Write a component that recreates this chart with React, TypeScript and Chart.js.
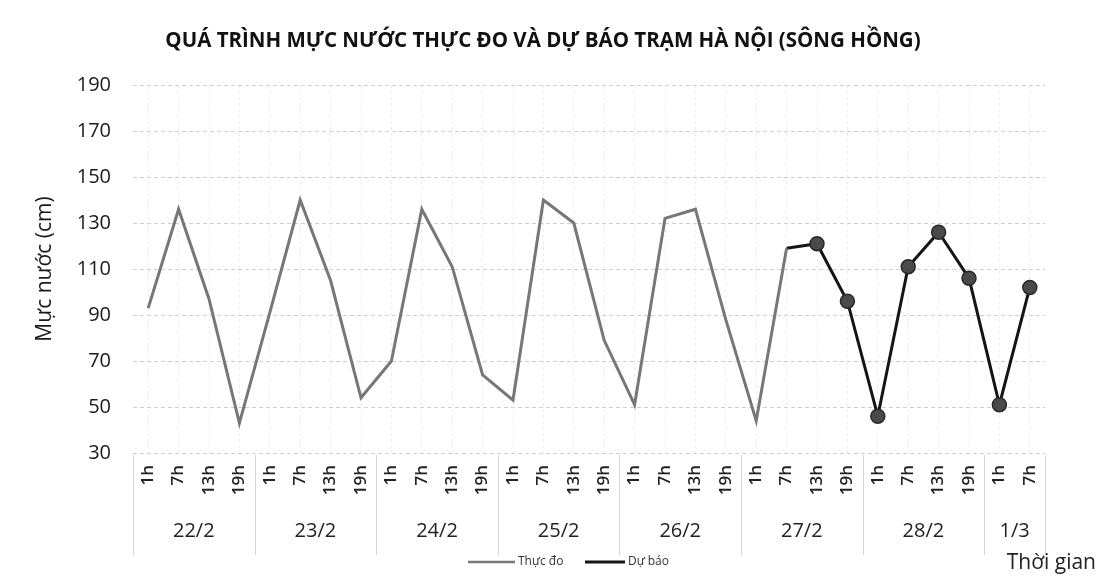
import React, { useEffect, useRef } from 'react';
import { Chart, registerables } from 'chart.js';

Chart.register(...registerables);

const hourLabels = [
  '1h', '7h', '13h', '19h',
  '1h', '7h', '13h', '19h',
  '1h', '7h', '13h', '19h',
  '1h', '7h', '13h', '19h',
  '1h', '7h', '13h', '19h',
  '1h', '7h', '13h', '19h',
  '1h', '7h', '13h', '19h',
  '1h', '7h',
];
const dayLabels = ['22/2', '23/2', '24/2', '25/2', '26/2', '27/2', '28/2', '1/3'];
const daySpans = [4, 4, 4, 4, 4, 4, 4, 2];

const measured = [
  93, 136, 97, 43,
  91, 140, 105, 54,
  70, 136, 111, 64,
  53, 140, 130, 79,
  51, 132, 136, 88,
  44, 119,
];
const forecast = [
  null, null, null, null, null, null, null, null, null, null, null,
  null, null, null, null, null, null, null, null, null, null,
  119, 121, 96, 46, 111, 126, 106, 51, 102,
];
const forecastRadius = forecast.map((v, i) => (v === null || i === 21 ? 0 : 7));

const yTicks = [30, 50, 70, 90, 110, 130, 150, 170, 190];

const TITLE = 'QUÁ TRÌNH MỰC NƯỚC THỰC ĐO VÀ DỰ BÁO TRẠM HÀ NỘI (SÔNG HỒNG)';
const FONT = "'Open Sans', 'Noto Sans', sans-serif";

const decorPlugin = {
  id: 'decor',
  afterDraw(chart: any) {
    const { ctx, scales } = chart;
    const x = scales.x;
    const bottom = chart.chartArea.bottom;
    const step = x.getPixelForValue(1) - x.getPixelForValue(0);
    ctx.save();

    // title
    ctx.fillStyle = '#111';
    ctx.font = `bold 20.5px ${FONT}`;
    ctx.textAlign = 'center';
    ctx.textBaseline = 'middle';
    ctx.fillText(TITLE, 543, 41);

    // day row
    let idx = 0;
    const bounds: number[] = [];
    dayLabels.forEach((d, k) => {
      const start = idx;
      const end = idx + daySpans[k] - 1;
      const left = x.getPixelForValue(start) - step / 2;
      const right = x.getPixelForValue(end) + step / 2;
      if (k === 0) bounds.push(left);
      bounds.push(right);
      ctx.fillStyle = '#222';
      ctx.font = `20px ${FONT}`;
      ctx.textAlign = 'center';
      ctx.textBaseline = 'middle';
      ctx.fillText(d, (left + right) / 2, bottom + 78);
      idx += daySpans[k];
    });
    ctx.strokeStyle = '#d6d6d6';
    ctx.lineWidth = 1;
    bounds.forEach((b) => {
      ctx.beginPath();
      ctx.moveTo(Math.round(b) + 0.5, bottom + 2);
      ctx.lineTo(Math.round(b) + 0.5, bottom + 102);
      ctx.stroke();
    });

    // legend
    const legendY = 562;
    const items = [
      { label: chart.data.datasets[0].label, color: '#7a7a7a', width: 2.5, x0: 468, x1: 515 },
      { label: chart.data.datasets[1].label, color: '#151515', width: 3, x0: 585, x1: 625 },
    ];
    items.forEach((it) => {
      ctx.strokeStyle = it.color;
      ctx.lineWidth = it.width;
      ctx.beginPath();
      ctx.moveTo(it.x0, legendY);
      ctx.lineTo(it.x1, legendY);
      ctx.stroke();
      ctx.fillStyle = '#333';
      ctx.font = `12px ${FONT}`;
      ctx.textAlign = 'left';
      ctx.textBaseline = 'middle';
      ctx.fillText(it.label, it.x1 + 3, legendY);
    });

    // axis caption
    ctx.fillStyle = '#222';
    ctx.font = `21px ${FONT}`;
    ctx.textAlign = 'right';
    ctx.textBaseline = 'middle';
    ctx.fillText('Thời gian', 1096, 563);
    ctx.restore();
  },
};

export default function App() {
  const ref = useRef<HTMLCanvasElement | null>(null);
  useEffect(() => {
    if (!ref.current) return;
    const chart = new Chart(ref.current, {
      type: 'line',
      data: {
        labels: hourLabels,
        datasets: [
          {
            label: 'Thực đo',
            data: measured,
            borderColor: '#777777',
            backgroundColor: '#777777',
            borderWidth: 3,
            pointRadius: 0,
            tension: 0,
          },
          {
            label: 'Dự báo',
            data: forecast as any,
            borderColor: '#151515',
            backgroundColor: '#4a4a4a',
            borderWidth: 3,
            pointRadius: forecastRadius,
            pointBorderColor: '#2a2a2a',
            pointBorderWidth: 1.5,
            pointBackgroundColor: '#4a4a4a',
            tension: 0,
          },
        ],
      },
      plugins: [decorPlugin],
      options: {
        responsive: false,
        animation: false,
        layout: { padding: { left: 10, right: 66, top: 85, bottom: 32 } },
        plugins: {
          title: { display: false },
          legend: { display: false },
          tooltip: { enabled: false },
        },
        scales: {
          x: {
            offset: true,
            grid: {
              display: true,
              color: 'rgba(0,0,0,0.07)',
              drawTicks: false,
            },
            border: { display: false, dash: [3, 3] },
            ticks: {
              color: '#222',
              font: { family: FONT, size: 17, weight: '600' },
              minRotation: 90,
              maxRotation: 90,
              autoSkip: false,
              padding: 12,
            },
            afterFit(scale: any) {
              scale.height = 95;
            },
          },
          y: {
            min: 30,
            max: 190,
            afterBuildTicks(scale: any) {
              scale.ticks = yTicks.map((v) => ({ value: v }));
            },
            grid: {
              color: '#cfcfcf',
              drawTicks: false,
              lineWidth: 1,
            },
            border: { display: false, dash: [4, 3] },
            ticks: {
              color: '#1a1a1a',
              font: { family: FONT, size: 20 },
              padding: 22,
            },
            title: {
              display: true,
              text: 'Mực nước (cm)',
              color: '#1a1a1a',
              font: { family: FONT, size: 21 },
              padding: { top: 22, bottom: 0 },
            },
            afterFit(scale: any) {
              scale.width = 123;
            },
          },
        },
      },
    });
    return () => chart.destroy();
  }, []);
  return (
    <div style={{ position: 'fixed', left: 0, top: 0, width: 1111, height: 580, background: '#fff' }}>
      <canvas ref={ref} width={1111} height={580} />
    </div>
  );
}
